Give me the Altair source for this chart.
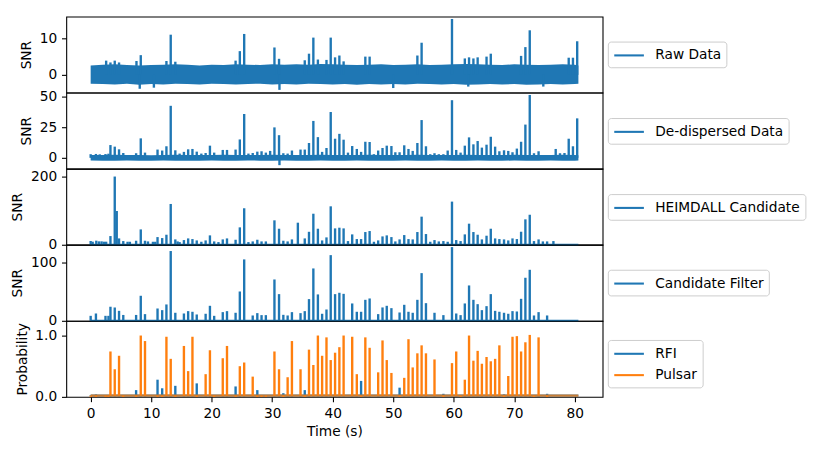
import altair as alt
import pandas as pd

BLUE = "#1f77b4"
ORANGE = "#ff7f0e"
FONT = "DejaVu Sans"
FS = 13.9

# ---------------- data ----------------
T_START, T_END = 0.0, 80.6

# envelope of the noise band (raw and de-dispersed)
BAND_T = [0, 2, 4, 6, 8, 10, 12, 14, 16, 18, 20, 22, 24, 26, 28, 30, 32, 34, 36, 38, 40,
          42, 44, 46, 48, 50, 52, 54, 56, 58, 60, 62, 64, 66, 68, 70, 72, 74, 76, 78, 80, 80.6]
RAW_HI = [2.6, 2.8, 2.9, 2.7, 2.6, 2.7, 2.8, 2.9, 2.8, 2.6, 2.8, 2.7, 2.9, 2.8, 2.7, 2.9, 2.8,
          2.9, 2.8, 3.0, 2.9, 2.8, 2.7, 2.8, 2.9, 2.7, 2.8, 2.9, 2.7, 2.8, 2.9, 3.0, 2.9, 2.8,
          2.7, 2.9, 2.8, 2.7, 2.8, 2.9, 2.8, 2.6]
RAW_LO = [-2.4, -2.5, -2.6, -2.4, -2.7, -2.5, -2.6, -2.4, -2.5, -2.6, -2.4, -2.5, -2.6, -2.5,
          -2.4, -2.6, -2.5, -2.6, -2.4, -2.5, -2.6, -2.5, -2.7, -2.5, -2.6, -2.5, -2.6, -2.4,
          -2.5, -2.6, -2.5, -2.7, -2.6, -2.5, -2.6, -2.5, -2.7, -2.6, -2.5, -2.6, -2.5, -2.4]
DD_HI = [2.3, 2.4, 2.5, 2.3, 2.4, 2.2, 2.4, 2.5, 2.3, 2.4, 2.3, 2.5, 2.4, 2.3, 2.4, 2.5, 2.3,
         2.4, 2.3, 2.5, 2.4, 2.3, 2.4, 2.5, 2.3, 2.4, 2.3, 2.5, 2.4, 2.3, 2.4, 2.5, 2.3, 2.4,
         2.3, 2.5, 2.4, 2.3, 2.4, 2.5, 2.3, 2.2]
DD_LO = [-2.2, -2.3, -2.4, -2.2, -2.3, -2.4, -2.2, -2.3, -2.4, -2.3, -2.2, -2.4, -2.3, -2.2,
         -2.3, -2.4, -2.2, -2.3, -2.4, -2.2, -2.3, -2.4, -2.2, -2.3, -2.4, -2.3, -2.2, -2.4,
         -2.3, -2.2, -2.3, -2.4, -2.2, -2.3, -2.4, -2.2, -2.3, -2.4, -2.2, -2.3, -2.4, -2.2]

# Raw data spikes
RAW_T = [2.56, 3.27, 3.98, 4.69, 7.57, 8.28, 12.52, 13.23, 13.99, 23.95, 24.65, 25.37, 30.37,
         31.13, 35.38, 36.08, 36.8, 37.55, 38.97, 39.67, 40.39, 41.1, 41.8, 45.39, 46.1,
         53.99, 54.69, 59.71, 61.83, 62.53, 63.25, 63.95, 65.42, 66.12, 71.13, 71.84, 72.56,
         79.0, 79.7, 80.4,
         8.11, 10.45, 31.2, 50.0, 62.4, 74.8]
RAW_SNR = [3.9, 3.4, 3.9, 3.4, 3.8, 5.4, 3.8, 11.0, 3.6, 3.9, 6.5, 11.2, 7.5,
           4.4, 4.0, 5.8, 10.2, 4.2, 4.1, 10.2, 4.8, 5.3, 3.7, 5.0, 5.0,
           5.3, 8.8, 15.3, 4.5, 4.8, 4.5, 4.8, 5.0, 5.8, 5.2, 7.6, 12.2,
           4.7, 4.7, 9.2,
           -3.8, -3.5, -4.1, -3.6, -3.2, -3.2]

# De-dispersed spikes
DD_T = [0.0, 0.87, 1.5, 2.45, 2.94, 3.27, 3.98, 4.69, 5.39, 7.51, 8.28, 8.98, 11.05, 11.82,
        12.52, 13.23, 13.99, 14.7, 15.41, 16.11, 16.82, 17.53, 18.29, 19.0, 19.71, 20.41,
        21.83, 22.53, 23.95, 24.65, 25.37, 26.07, 26.78, 27.54, 28.24, 28.95, 29.66, 30.37,
        31.13, 31.84, 32.55, 33.26, 34.68, 35.38, 36.08, 36.8, 37.55, 38.25, 38.97, 39.67,
        40.39, 41.1, 41.8, 42.52, 43.22, 43.98, 44.69, 45.39, 46.1, 46.8, 47.51, 48.23,
        48.93, 49.7, 50.35, 51.05, 51.82, 52.52, 53.22, 53.99, 54.69, 55.41, 56.12, 56.82,
        57.53, 58.29, 59.0, 59.71, 60.41, 61.13, 61.83, 62.53, 63.25, 63.95, 64.65, 65.42,
        66.12, 66.84, 67.54, 68.31, 69.01, 69.71, 70.43, 71.13, 71.84, 72.56, 73.26, 74.02,
        76.85, 77.56, 78.3, 79.0, 79.7, 80.4, 31.2]
DD_SNR = [3.0, 3.2, 2.9, 3.1, 3.4, 10.5, 9.2, 7.0, 4.0, 3.8, 16.0, 4.3, 6.8, 6.0,
          9.5, 42.7, 6.2, 3.5, 4.9, 7.0, 7.3, 5.1, 3.5, 4.0, 10.0, 4.3,
          6.5, 6.5, 6.8, 15.1, 36.0, 3.5, 4.0, 5.1, 5.4, 4.3, 5.7, 25.0,
          18.6, 3.8, 3.5, 6.0, 6.8, 6.8, 12.2, 30.3, 17.0, 4.9, 8.1, 37.6,
          15.7, 19.7, 14.9, 4.3, 9.7, 7.3, 4.9, 13.2, 13.0, 3.0, 6.0, 8.1,
          10.0, 9.7, 4.6, 4.6, 10.3, 7.3, 5.7, 12.2, 31.0, 9.5, 3.0, 3.8,
          3.0, 3.0, 6.0, 47.3, 6.5, 4.3, 10.0, 16.8, 11.1, 13.8, 8.4, 10.8,
          17.3, 9.2, 5.4, 6.2, 5.7, 4.6, 7.6, 13.2, 27.3, 51.6, 3.8, 5.4,
          7.3, 3.8, 4.0, 15.7, 9.5, 32.4, -6.0]

# HEIMDALL candidates
HEIM_T = [0.0, 0.33, 0.93, 1.37, 1.8, 2.19, 2.56, 3.27, 3.98, 4.31, 4.69, 5.39, 6.1, 6.48,
          7.51, 8.28, 8.98, 9.47, 10.29, 10.67, 11.05, 11.82, 12.52, 13.23, 13.99, 14.37,
          14.7, 15.41, 16.11, 16.82, 17.53, 18.29, 19.0, 19.71, 20.41, 21.12, 21.83, 22.53,
          23.95, 24.65, 25.37, 26.07, 26.78, 27.54, 28.24, 28.95, 30.37, 31.13, 31.84, 32.55,
          33.26, 34.24, 35.38, 36.08, 36.8, 37.55, 38.25, 38.97, 39.67, 40.39, 41.1, 41.8,
          42.52, 43.22, 43.98, 44.69, 45.39, 46.1, 46.81, 47.51, 48.23, 48.93, 49.7, 50.35,
          51.05, 51.82, 52.52, 53.22, 53.99, 54.69, 55.41, 56.12, 56.82, 57.53, 58.29, 59.0,
          59.71, 60.41, 61.13, 61.83, 62.53, 63.25, 63.95, 64.65, 65.42, 66.12, 66.84, 67.54,
          68.31, 69.01, 69.71, 70.43, 71.13, 71.84, 72.56, 73.26, 74.02, 74.73, 75.43, 76.47]
HEIM_SNR = [11, 9, 12, 10, 10, 9, 9, 25.5, 200, 99, 18.6, 10.8, 8.8, 8.8,
            11.8, 45, 11.8, 9.8, 8.8, 8.8, 22.5, 19.6, 29.4, 119.6, 15.7, 9.8,
            7.8, 13.7, 18.6, 16.7, 12.7, 8.8, 12.7, 27.5, 9.8, 7.8, 15.7, 18.6,
            14.7, 51, 107, 7.8, 9.8, 14.7, 9.8, 9.8, 71.6, 47, 11.8, 9.8,
            15.7, 64.7, 18.6, 38, 91, 47, 12.7, 21.6, 112.7, 48, 50, 48,
            10.8, 30.4, 16.7, 16.7, 37.3, 40.2, 8.8, 12.7, 24.5, 27.5, 22.5, 9.8,
            15.7, 28.4, 16.7, 15.7, 37.3, 82.4, 31.4, 8.8, 13.7, 9.8, 10.8, 8.8,
            126.5, 13.7, 10.8, 30.4, 61.8, 37.3, 29.4, 15.7, 26.5, 47, 18.6, 16.7,
            15.7, 12.7, 18.6, 16.7, 38.2, 74.5, 88, 10.8, 15.7, 9.8, 9.8, 10.8]

# Candidates kept by the filter, with classifier probabilities
CAND_T = [0.0, 0.87, 2.45, 2.94, 3.27, 3.98, 4.69, 5.39, 7.51, 8.28, 8.98, 11.05, 11.82,
          12.52, 13.23, 13.99, 15.41, 16.11, 16.82, 17.53, 19.0, 19.71, 20.41, 21.83, 22.53,
          23.95, 24.65, 25.37, 26.78, 27.54, 28.24, 28.95, 30.37, 31.13, 31.84, 32.55, 33.26,
          34.68, 35.38, 36.08, 36.8, 37.55, 38.25, 38.97, 39.67, 40.39, 41.1, 41.8, 43.22,
          43.98, 44.69, 45.39, 46.1, 47.51, 48.23, 48.93, 49.7, 51.05, 51.82, 52.52, 53.22,
          53.99, 54.69, 55.41, 56.82, 58.29, 59.71, 60.41, 61.13, 61.83, 62.53, 63.25, 63.95,
          64.65, 65.42, 66.12, 66.84, 67.54, 68.31, 69.01, 69.71, 70.43, 71.13, 71.84, 72.56,
          73.26, 74.02, 75.43]
FILT_SNR = [8.5, 12.5, 8.5, 8.5, 24, 22.7, 17, 10, 10, 42.7, 11.4, 21, 18.2,
            27.9, 119, 13.7, 12.5, 16.5, 15.4, 10.8, 12, 25.6, 8.5, 14.8, 16.5,
            13.7, 50, 104.7, 9.1, 13.1, 9.7, 9.7, 70.5, 45.5, 10.2, 9.1, 14.8,
            13.1, 16.5, 37, 89.3, 45, 12, 19.3, 112, 45.5, 47.8, 46, 29.6,
            15.4, 15.4, 35.8, 38.1, 11.4, 22.8, 25.6, 21.6, 14.2, 27.3, 15.4, 13.7,
            35.8, 81.3, 30.1, 13.7, 9.7, 125.7, 12.5, 9.7, 29.6, 60.3, 35.8, 28.4,
            18.2, 25, 45.5, 17, 15.4, 13.7, 12, 16.5, 15.9, 37.5, 73.4, 87,
            9.1, 14.8, 9.1]
PULSAR_P = [0, 0, 0, 0, 0.74, 0.45, 0.67, 0, 0, 1.0, 0.91, 0, 0,
            0.98, 0.62, 0, 0.83, 0.42, 0.98, 0, 0.37, 0.76, 0, 0.63, 0.83,
            0, 0.5, 0.56, 0.33, 0, 0, 0, 0.74, 0.45, 0, 0.32, 0.91,
            0.45, 0, 0.77, 0.52, 1.0, 0.67, 0.97, 0.6, 0.72, 0.81, 1.0, 0.98,
            0.37, 0, 0.97, 0.8, 0.4, 0.92, 0.6, 0.39, 0, 0.31, 0.94, 0.48,
            0.71, 0.84, 0.71, 0.61, 0, 0.55, 0.74, 0, 0.28, 1.0, 0.59, 0.75,
            0.54, 0.65, 0.58, 0.62, 0.84, 0, 0.34, 0.98, 0.99, 0.74, 0.89, 1.01,
            0, 0.97, 0]
RFI_P = [0.03, 0.04, 0.02, 0.02, 0, 0, 0, 0.03, 0.11, 0, 0, 0.28, 0.14,
         0, 0, 0.18, 0, 0, 0, 0.22, 0, 0, 0.02, 0, 0,
         0.17, 0, 0, 0, 0.11, 0.02, 0.03, 0, 0, 0.06, 0, 0,
         0, 0.11, 0, 0, 0, 0, 0, 0, 0, 0, 0, 0,
         0, 0.26, 0, 0, 0, 0, 0, 0, 0.15, 0, 0, 0,
         0, 0, 0, 0, 0.05, 0, 0, 0.02, 0, 0, 0, 0,
         0, 0, 0, 0, 0, 0.04, 0, 0, 0, 0, 0, 0,
         0.02, 0, 0.05]

# ---------------- helpers ----------------
XDOM = [-4.03, 84.6]
W, H = 543, 77


def xenc(field, show):
    if show:
        ax = alt.Axis(title="Time (s)", values=list(range(0, 81, 10)), labelFlush=False,
                      titlePadding=4)
    else:
        ax = None
    return alt.X(f"{field}:Q", scale=alt.Scale(domain=XDOM, nice=False, zero=False), axis=ax)


def yenc(field, dom, ticks, title, fmt=None):
    kw = dict(title=title, values=ticks)
    if fmt:
        kw["format"] = fmt
    return alt.Y(f"{field}:Q", scale=alt.Scale(domain=dom, nice=False, zero=False),
                 axis=alt.Axis(**kw))


def legend(lx, ly):
    # line handle 30px long drawn with a custom path, nominal symbol box 15px
    return alt.Legend(title=None, orient="none", legendX=lx, legendY=ly,
                      symbolType="M-1,0H3", symbolSize=225, symbolStrokeWidth=2.1,
                      symbolFillColor="transparent",
                      labelFontSize=FS, labelFont=FONT, labelColor="black",
                      strokeColor="#cccccc", fillColor="white", cornerRadius=3,
                      padding=5, labelOffset=25, rowPadding=5.6)


def snr_panel(name, spikes_t, spikes_v, dom, ticks, ly, band=None, show_x=False,
              base=True):
    layers = []
    if band is not None:
        bdf = pd.DataFrame({"t": BAND_T, "lo": band[0], "hi": band[1]})
        layers.append(alt.Chart(bdf).mark_area(color=BLUE, opacity=1, interpolate="linear").encode(
            x=xenc("t", show_x), y=yenc("lo", dom, ticks, "SNR"), y2="hi"))
    if base:
        basedf = pd.DataFrame({"t0": [T_START], "t1": [T_END]})
        layers.append(alt.Chart(basedf).mark_rule(color=BLUE, strokeWidth=2.1).encode(
            x=xenc("t0", show_x), x2="t1", y=alt.datum(0)))
    sdf = pd.DataFrame({"t": spikes_t, "v": spikes_v, "series": name})
    layers.append(alt.Chart(sdf).mark_rule(strokeWidth=2.4).encode(
        x=xenc("t", show_x), y=yenc("v", dom, ticks, "SNR"), y2=alt.datum(0),
        color=alt.Color("series:N", scale=alt.Scale(domain=[name], range=[BLUE]),
                        legend=legend(548.3, ly))))
    return alt.layer(*layers).properties(width=W, height=H)


p1 = snr_panel("Raw Data", RAW_T, RAW_SNR, [-4.86, 15.95], [0, 10], 25.3,
               band=(RAW_LO, RAW_HI), base=False)
p2 = snr_panel("De-dispersed Data", DD_T, DD_SNR, [-8.9, 53.5], [0, 25, 50], 25.7,
               band=(DD_LO, DD_HI), base=False)
p3 = snr_panel("HEIMDALL Candidate", HEIM_T, HEIM_SNR, [0, 223], [0, 100, 200], 25.7)
p4 = snr_panel("Candidate Filter", CAND_T, FILT_SNR, [0, 129.7], [0, 50, 100], 25.3)

# probability panel
PDOM = [0, 1.24]
cscale = alt.Scale(domain=["RFI", "Pulsar"], range=[BLUE, ORANGE])
basedf = pd.DataFrame({"t0": [T_START], "t1": [T_END]})
rfi_df = pd.DataFrame({"t": CAND_T, "p": RFI_P, "series": "RFI"})
pul_df = pd.DataFrame({"t": CAND_T, "p": PULSAR_P, "series": "Pulsar"})
yprob = yenc("p", PDOM, [0, 0.5, 1.0], "Probability", fmt=".1f")
p5 = alt.layer(
    alt.Chart(basedf).mark_rule(color=BLUE, strokeWidth=2.1).encode(
        x=xenc("t0", True), x2="t1", y=alt.datum(0.02)),
    alt.Chart(rfi_df).mark_rule(strokeWidth=2.4).encode(
        x=xenc("t", True), y=yprob, y2=alt.datum(0.02),
        color=alt.Color("series:N", scale=cscale, legend=legend(548.3, 19.4))),
    alt.Chart(basedf).mark_rule(color=ORANGE, strokeWidth=2.1, opacity=0.75).encode(
        x=xenc("t0", True), x2="t1", y=alt.datum(0.02)),
    alt.Chart(pul_df).mark_rule(strokeWidth=2.4).encode(
        x=xenc("t", True), y=yprob, y2=alt.datum(0.02),
        color=alt.Color("series:N", scale=cscale, legend=legend(548.3, 19.4))),
).properties(width=W, height=H)

chart = alt.vconcat(p1, p2, p3, p4, p5, spacing=0, bounds="flush").resolve_scale(
    x="independent", y="independent", color="independent"
).properties(
    padding={"left": 2, "top": 5, "right": 5, "bottom": 0}
).configure(
    font=FONT
).configure_view(
    stroke="black", strokeWidth=1.1
).configure_axis(
    grid=False, domain=False, ticks=True, tickSize=4.86, tickWidth=1.1, tickColor="black",
    labelFont=FONT, labelFontSize=FS, labelColor="black", labelPadding=4.86,
    titleFont=FONT, titleFontSize=FS, titleFontWeight="normal", titleColor="black",
    titlePadding=5.6
)

chart.save("out.html", embed_options={"renderer": "svg", "actions": False})
